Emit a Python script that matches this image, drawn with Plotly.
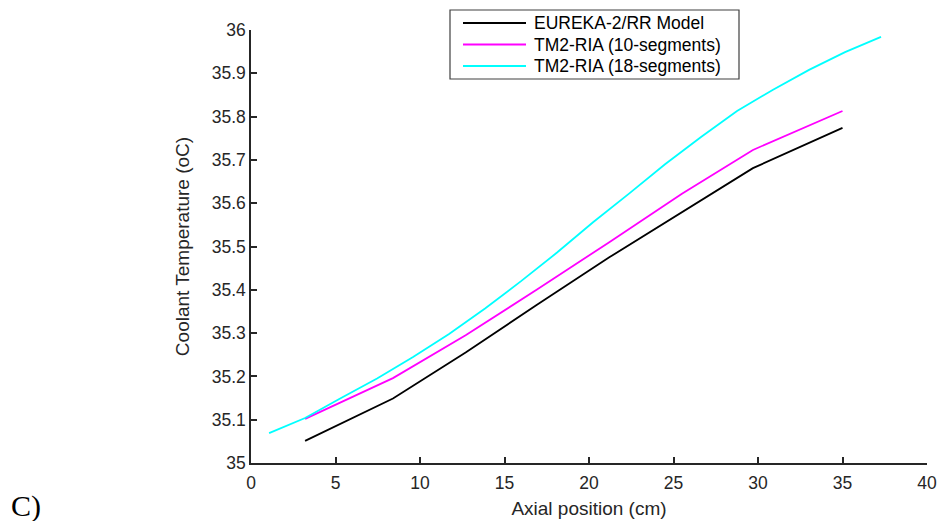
import plotly.graph_objects as go

# Axial positions (cm) of the node centres for each model
x_eureka = [3.2, 8.4, 12.7, 16.9, 21.2, 25.5, 29.7, 35.0]
y_eureka = [35.051, 35.149, 35.255, 35.365, 35.475, 35.580, 35.681, 35.774]

x_tm2_10 = [3.2, 8.4, 12.7, 16.9, 21.2, 25.5, 29.7, 35.0]
y_tm2_10 = [35.102, 35.196, 35.295, 35.400, 35.510, 35.622, 35.723, 35.813]

x_tm2_18 = [1.07, 3.2, 5.33, 7.46, 9.59, 11.72, 13.85, 15.98, 18.11,
            20.24, 22.37, 24.5, 26.63, 28.76, 30.89, 33.02, 35.15, 37.28]
y_tm2_18 = [35.069, 35.104, 35.150, 35.195, 35.245, 35.298, 35.357, 35.420, 35.486,
            35.556, 35.622, 35.690, 35.753, 35.813, 35.862, 35.908, 35.949, 35.984]

x_ticks = [0, 5, 10, 15, 20, 25, 30, 35, 40]
y_ticks = [35.0, 35.1, 35.2, 35.3, 35.4, 35.5, 35.6, 35.7, 35.8, 35.9, 36.0]
y_tick_text = ["35", "35.1", "35.2", "35.3", "35.4", "35.5", "35.6", "35.7", "35.8", "35.9", "36"]

series_names = ["EUREKA-2/RR Model", "TM2-RIA (10-segments)", "TM2-RIA (18-segments)"]
series_colors = ["#000000", "#ff00ff", "#00ffff"]
series_data = [(x_eureka, y_eureka), (x_tm2_10, y_tm2_10), (x_tm2_18, y_tm2_18)]

fig = go.Figure()
for name, (xs, ys), color in zip(series_names, series_data, series_colors):
    fig.add_trace(go.Scatter(x=xs, y=ys, mode="lines", name=name, showlegend=False,
                             line=dict(color=color, width=1.8)))

font_family = "Liberation Sans, Arial, sans-serif"
axis_common = dict(
    showline=True, linecolor="#262626", linewidth=1.5,
    ticks="inside", ticklen=6, tickwidth=1.5, tickcolor="#262626",
    showgrid=False, zeroline=False, automargin=False,
    tickfont=dict(family=font_family, size=17.5, color="#262626"),
)

fig.update_layout(
    width=946, height=521,
    margin=dict(l=251, r=19, t=30, b=58),
    paper_bgcolor="white", plot_bgcolor="white",
    xaxis=dict(range=[0, 40], tickvals=x_ticks, ticklabelstandoff=3,
               title=dict(text="Axial position (cm)", standoff=10,
                          font=dict(family=font_family, size=19, color="#262626")),
               **axis_common),
    yaxis=dict(range=[35, 36], tickvals=y_ticks, ticktext=y_tick_text,
               title=dict(text="Coolant Temperature (oC)", standoff=17,
                          font=dict(family=font_family, size=19, color="#262626")),
               **axis_common),
)

# Boxed legend drawn in paper coordinates (plot area: 676 x 433 px)
PW, PH = 676.0, 433.0
def px(v):
    return (v - 251) / PW
def py(v):
    return (463 - v) / PH

fig.add_shape(type="rect", xref="paper", yref="paper",
              x0=px(450), x1=px(739), y0=py(79), y1=py(10),
              line=dict(color="#404040", width=1.2), fillcolor="white", layer="above")
for i, (name, color) in enumerate(zip(series_names, series_colors)):
    row_y = py(23 + i * 21.5)
    fig.add_shape(type="line", xref="paper", yref="paper",
                  x0=px(463), x1=px(526), y0=row_y, y1=row_y,
                  line=dict(color=color, width=1.8), layer="above")
    fig.add_annotation(text=name, xref="paper", yref="paper",
                       x=px(532), y=row_y, xanchor="left", yanchor="middle",
                       showarrow=False,
                       font=dict(family=font_family, size=17.5, color="#000000"))

fig.add_annotation(text="C)", xref="paper", yref="paper",
                   x=px(9), y=py(506), xanchor="left", yanchor="middle",
                   showarrow=False,
                   font=dict(family="Liberation Serif, Times New Roman, serif", size=30, color="#000000"))

fig.write_html("out.html")
